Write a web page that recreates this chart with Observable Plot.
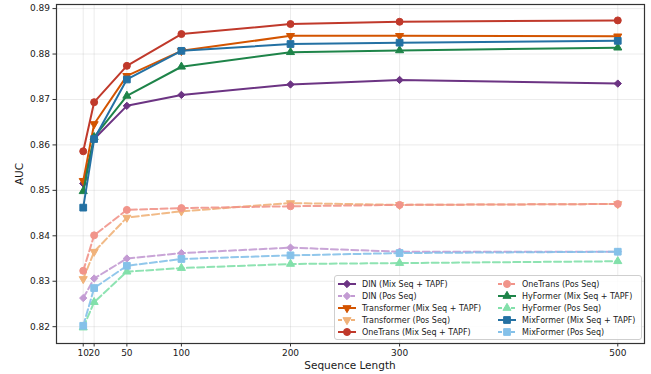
<!DOCTYPE html>
<html>
<head>
<meta charset="utf-8">
<script src="https://cdn.jsdelivr.net/npm/d3@7"></script>
<script src="https://cdn.jsdelivr.net/npm/@observablehq/plot@0.6"></script>
<style>
  html, body { margin: 0; padding: 0; background: #fff; }
  #wrap { position: relative; width: 651px; height: 374px; font-family: "DejaVu Sans", sans-serif; }
  .atitle { position: absolute; font-size: 10.5px; color: #1a1a1a; white-space: nowrap; }
  #legend { position: absolute; left: 334px; top: 275px; width: 306px; height: 63px; border: 1px solid #cfcfcf; border-radius: 3px; background: rgba(255,255,255,0.85); font-size: 8px; color: #1a1a1a; }
  .lrow { position: absolute; display: flex; align-items: center; height: 12px; white-space: nowrap; }
  .lrow svg { margin-right: 5px; }
</style>
</head>
<body>
<div id="wrap"></div>
<script>
const seqLen = [10, 20, 50, 100, 200, 300, 500];
const yTicks = [0.82, 0.83, 0.84, 0.85, 0.86, 0.87, 0.88, 0.89];

const dinMix   = [0.8515, 0.8613, 0.8686, 0.8710, 0.8733, 0.8743, 0.8735];
const dinPos   = [0.8263, 0.8306, 0.8350, 0.8362, 0.8374, 0.8365, 0.8365];
const transMix = [0.8521, 0.8646, 0.8752, 0.8807, 0.8840, 0.8840, 0.8839];
const transPos = [0.8305, 0.8365, 0.8440, 0.8454, 0.8472, 0.8468, 0.8470];
const oneMix   = [0.8586, 0.8694, 0.8774, 0.8844, 0.8866, 0.8871, 0.8874];
const onePos   = [0.8323, 0.8401, 0.8457, 0.8461, 0.8465, 0.8468, 0.8470];
const hyMix    = [0.8498, 0.8617, 0.8708, 0.8772, 0.8804, 0.8808, 0.8814];
const hyPos    = [0.8198, 0.8254, 0.8321, 0.8329, 0.8338, 0.8340, 0.8344];
const mixMix   = [0.8462, 0.8613, 0.8744, 0.8807, 0.8822, 0.8825, 0.8829];
const mixPos   = [0.8202, 0.8285, 0.8334, 0.8349, 0.8357, 0.8362, 0.8365];

const seriesNames = [
  "DIN (Mix Seq + TAPF)", "DIN (Pos Seq)",
  "Transformer (Mix Seq + TAPF)", "Transformer (Pos Seq)",
  "OneTrans (Mix Seq + TAPF)", "OneTrans (Pos Seq)",
  "HyFormer (Mix Seq + TAPF)", "HyFormer (Pos Seq)",
  "MixFormer (Mix Seq + TAPF)", "MixFormer (Pos Seq)"
];
const seriesValues = [dinMix, dinPos, transMix, transPos, oneMix, onePos, hyMix, hyPos, mixMix, mixPos];
const seriesColors = ["#6c3483", "#c39bd3", "#d35400", "#f0b27a", "#c0392b", "#f1948a", "#1e8449", "#82e0aa", "#2471a3", "#85c1e9"];
const seriesMarkers = ["diamond2", "diamond2", "triangle", "triangle", "circle", "circle", "triangle", "triangle", "square", "square"];
const seriesRotate = [0, 0, 180, 180, 0, 0, 0, 0, 0, 0];
const seriesDashed = [false, true, false, true, false, true, false, true, false, true];
const markerR = {diamond2: 3.3, triangle: 3.0, circle: 3.5, square: 3.8};

const series = seriesNames.map((name, i) => ({
  name, color: seriesColors[i], symbol: seriesMarkers[i], rotate: seriesRotate[i], dashed: seriesDashed[i],
  data: seqLen.map((s, j) => ({x: s, y: seriesValues[i][j]}))
}));

const marks = [
  Plot.gridX(seqLen, {stroke: "#b0b0b0", strokeOpacity: 0.3, strokeWidth: 0.8}),
  Plot.gridY(yTicks, {stroke: "#b0b0b0", strokeOpacity: 0.3, strokeWidth: 0.8})
];
for (const s of series) {
  marks.push(Plot.line(s.data, {
    x: "x", y: "y", stroke: s.color, strokeWidth: 2,
    strokeDasharray: s.dashed ? "7,3.2" : null, strokeOpacity: s.dashed ? 0.9 : 1
  }));
  marks.push(Plot.dot(s.data, {
    x: "x", y: "y", symbol: s.symbol, r: markerR[s.symbol], rotate: s.rotate,
    fill: s.color, stroke: s.color, strokeWidth: 1, fillOpacity: 1
  }));
}
marks.push(Plot.frame({stroke: "#333", strokeWidth: 1.2}));
marks.push(Plot.axisX(seqLen, {tickSize: 3.5, tickPadding: 3, fontSize: 9, tickFormat: d => String(d), label: null, stroke: "#333", color: "#1a1a1a"}));
marks.push(Plot.axisY(yTicks, {tickSize: 3.5, tickPadding: 3, fontSize: 9, tickFormat: d3.format(".2f"), label: null, stroke: "#333", color: "#1a1a1a"}));

const chart = Plot.plot({
  width: 651, height: 374,
  marginLeft: 56, marginRight: 7, marginTop: 4, marginBottom: 31,
  style: {fontFamily: "DejaVu Sans, sans-serif", background: "#fff"},
  x: {domain: [-14.5, 524.5]},
  y: {domain: [0.8163, 0.8909]},
  marks
});

const wrap = document.getElementById("wrap");
wrap.appendChild(chart);

const xt = document.createElement("div");
xt.className = "atitle";
xt.textContent = "Sequence Length";
xt.style.left = "350px"; xt.style.top = "359px"; xt.style.transform = "translateX(-50%)";
wrap.appendChild(xt);

const yt = document.createElement("div");
yt.className = "atitle";
yt.textContent = "AUC";
yt.style.left = "19px"; yt.style.top = "174px"; yt.style.transform = "translate(-50%,-50%) rotate(-90deg)";
wrap.appendChild(yt);

// legend
const legend = document.createElement("div");
legend.id = "legend";
wrap.appendChild(legend);
const d3sym = {diamond2: d3.symbolDiamond2, triangle: d3.symbolTriangle, circle: d3.symbolCircle, square: d3.symbolSquare};
series.forEach((s, i) => {
  const col = Math.floor(i / 5), row = i % 5;
  const div = document.createElement("div");
  div.className = "lrow";
  div.style.left = (col === 0 ? 2 : 162) + "px";
  div.style.top = (2 + row * 12.1) + "px";
  const svg = d3.create("svg").attr("width", 20).attr("height", 12);
  svg.append("line").attr("x1", 1).attr("x2", 19).attr("y1", 6).attr("y2", 6)
    .attr("stroke", s.color).attr("stroke-width", 2)
    .attr("stroke-dasharray", s.dashed ? "4,2.5" : null);
  const r = markerR[s.symbol];
  svg.append("path").attr("d", d3.symbol(d3sym[s.symbol], Math.PI * r * r)())
    .attr("transform", `translate(10,6) rotate(${s.rotate})`)
    .attr("fill", s.color).attr("stroke", s.color).attr("stroke-width", 1);
  div.appendChild(svg.node());
  const t = document.createElement("span");
  t.textContent = s.name;
  div.appendChild(t);
  legend.appendChild(div);
});
</script>
</body>
</html>
